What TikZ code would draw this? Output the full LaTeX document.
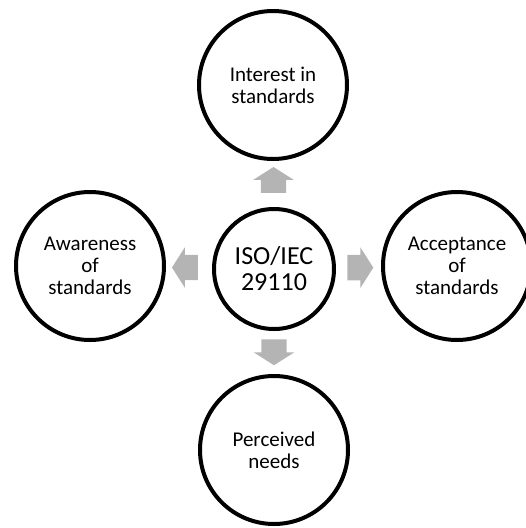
\documentclass[tikz,border=0pt]{standalone}
\usepackage{fontspec}
\setmainfont{Carlito}
\usetikzlibrary{calc,shapes.arrows}
\definecolor{arrowgray}{HTML}{B4B4B4}
\begin{document}
\begin{tikzpicture}[x=1pt, y=-1pt,
    bubble/.style={circle, draw, line width=4pt, minimum size=148pt, inner sep=0pt,
      align=center, font=\fontsize{21}{22}\selectfont},
    hub/.style={bubble, minimum size=120pt, font=\fontsize{26}{26}\selectfont},
    blockarrow/.style={single arrow, fill=arrowgray, draw=none, inner xsep=0pt,
      inner ysep=12.5pt, minimum height=26pt, single arrow head extend=7.5pt,
      single arrow tip angle=115}]
  \useasboundingbox (0,0) rectangle (526,528);
  \node[hub] (iso) at (274,269) {ISO/IEC\\29110};
  \node[bubble] (interest) at (273,85) {Interest in\\standards};
  \node[bubble] (awareness) at (90,266) {Awareness\\of\\standards};
  \node[bubble] (acceptance) at (457,266) {Acceptance\\of\\standards};
  \node[bubble] (needs) at (274,450) {Perceived\\needs};
  % block arrows between the hub and the outer circles
  \node[blockarrow, rotate=90] (toint) at ($(iso.north)!0.5!(interest.south)$) {};
  \node[blockarrow, rotate=-90] (toneeds) at ($(iso.south)!0.4!(needs.north)$) {};
  \node[blockarrow, rotate=180] (toaware) at ($(iso.west)!0.5!(awareness.east)$) {};
  \node[blockarrow] (toaccept) at ($(iso.east)!0.45!(acceptance.west)$) {};
\end{tikzpicture}
\end{document}
